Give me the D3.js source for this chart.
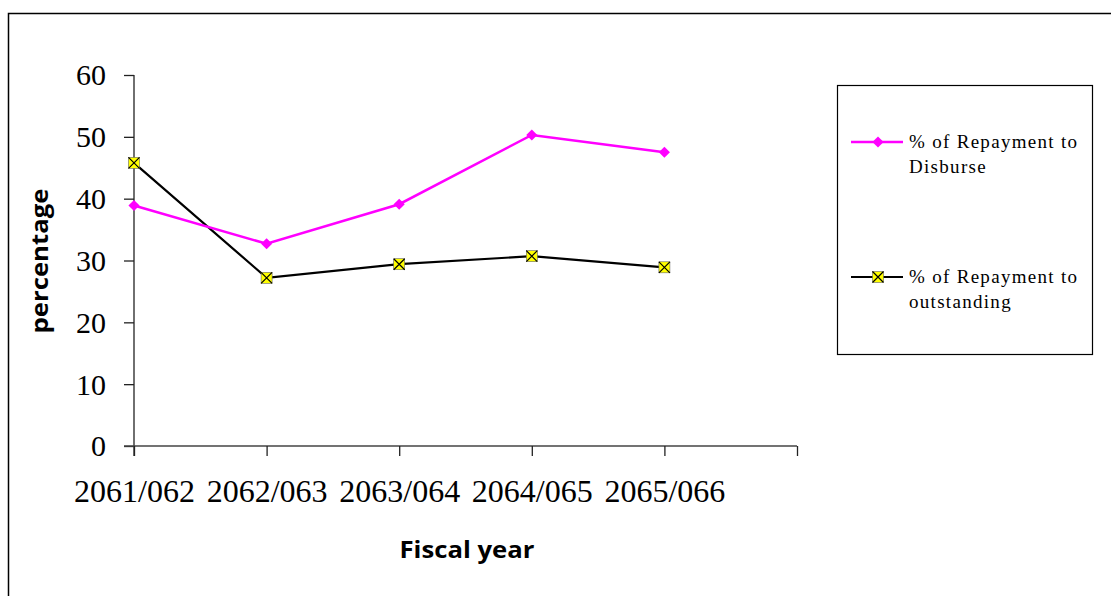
<!DOCTYPE html>
<html>
<head>
<meta charset="utf-8">
<script src="https://cdn.jsdelivr.net/npm/d3@7"></script>
<style>
  html, body { margin: 0; padding: 0; background: #fff; }
  svg { display: block; }
</style>
</head>
<body>
<svg id="chart" width="1111" height="596"></svg>
<script>
// Fiscal years (Nepali calendar) and repayment ratios in percent
const fiscalYears = ["2061/062", "2062/063", "2063/064", "2064/065", "2065/066"];
const repaymentToDisburse = [38.9, 32.7, 39.1, 50.3, 47.5];
const repaymentToOutstanding = [45.8, 27.2, 29.4, 30.7, 28.9];
const yTicks = [0, 10, 20, 30, 40, 50, 60];
const seriesNames = [
  ["% of Repayment to", "Disburse"],
  ["% of Repayment to", "outstanding"]
];

const svg = d3.select("#chart");

// outer chart frame
svg.append("path")
  .attr("d", "M8.5,600 L8.5,13.5 L1115,13.5")
  .attr("fill", "none")
  .attr("stroke", "#000")
  .attr("stroke-width", 1.5);

// category axis has one extra empty slot at the right end
const x = d3.scaleLinear().domain([0, fiscalYears.length]).range([134, 797]);
const y = d3.scaleLinear().domain([0, 60]).range([446, 75]);

const serif = "'Liberation Serif', 'Times New Roman', serif";
const sans = "'Open Sans', 'DejaVu Sans', sans-serif";

// y axis
const yAxis = svg.append("g")
  .attr("transform", "translate(134,0)")
  .call(d3.axisLeft(y).tickValues(yTicks).tickSize(10).tickPadding(18).tickFormat(d3.format("d")));
yAxis.select(".domain").attr("d", "M0,75 V456").attr("stroke", "#222").attr("stroke-width", 1.3);
yAxis.selectAll(".tick line").attr("stroke", "#222").attr("stroke-width", 1.3);
yAxis.selectAll(".tick text")
  .attr("font-family", serif).attr("font-size", 30).attr("fill", "#000")
  .attr("dy", "0.33em");

// x axis
const xAxis = svg.append("g")
  .attr("transform", "translate(0,446)")
  .call(d3.axisBottom(x).tickValues(d3.range(fiscalYears.length + 1)).tickSize(10).tickPadding(23)
    .tickFormat(i => fiscalYears[i] || ""));
xAxis.select(".domain").attr("d", "M124,0 H797").attr("stroke", "#444").attr("stroke-width", 1.5);
xAxis.selectAll(".tick line").attr("stroke", "#222").attr("stroke-width", 1.3);
xAxis.selectAll(".tick text")
  .attr("font-family", serif).attr("font-size", 32).attr("fill", "#000");

// axis titles
svg.append("text")
  .attr("transform", "translate(48,261) rotate(-90)")
  .attr("text-anchor", "middle")
  .attr("font-family", sans).attr("font-weight", "bold").attr("font-size", 23)
  .attr("textLength", 145).attr("lengthAdjust", "spacingAndGlyphs")
  .text("percentage");

svg.append("text")
  .attr("x", 467).attr("y", 558)
  .attr("text-anchor", "middle")
  .attr("font-family", sans).attr("font-weight", "bold").attr("font-size", 23)
  .attr("textLength", 135).attr("lengthAdjust", "spacingAndGlyphs")
  .text("Fiscal year");

const line = d3.line().x((d, i) => x(i)).y(d => y(d));

// series lines
svg.append("path").datum(repaymentToOutstanding)
  .attr("d", line).attr("fill", "none").attr("stroke", "#000").attr("stroke-width", 2.2);
svg.append("path").datum(repaymentToDisburse)
  .attr("d", line).attr("fill", "none").attr("stroke", "#ff00ff").attr("stroke-width", 2.5);

// marker drawers: square diamond, and yellow box with an x
const diamond = d3.symbol().type(d3.symbolSquare).size(62);
function drawDiamond(g, cx, cy) {
  g.append("path").attr("d", diamond()).attr("transform", `translate(${cx},${cy}) rotate(45)`)
    .attr("fill", "#ff00ff");
}
function drawCross(g, cx, cy) {
  const s = 5.5;
  const m = g.append("g").attr("transform", `translate(${cx},${cy})`);
  m.append("rect").attr("x", -s).attr("y", -s).attr("width", 2 * s).attr("height", 2 * s)
    .attr("fill", "#ffff00").attr("stroke", "#666").attr("stroke-width", 0.6);
  m.append("path").attr("d", `M${-s},${-s}L${s},${s}M${-s},${s}L${s},${-s}`)
    .attr("stroke", "#000").attr("stroke-width", 1.2);
}

repaymentToOutstanding.forEach((v, i) => drawCross(svg, x(i), y(v)));
repaymentToDisburse.forEach((v, i) => drawDiamond(svg, x(i), y(v)));

// legend
const legend = svg.append("g");
legend.append("rect")
  .attr("x", 837.5).attr("y", 85.5).attr("width", 255).attr("height", 269)
  .attr("fill", "none").attr("stroke", "#000").attr("stroke-width", 1.2);

const legendRows = [142, 277];
legendRows.forEach((ly, k) => {
  legend.append("line").attr("x1", 851).attr("x2", 903).attr("y1", ly).attr("y2", ly)
    .attr("stroke", k === 0 ? "#ff00ff" : "#000").attr("stroke-width", k === 0 ? 2.5 : 2.2);
  if (k === 0) drawDiamond(legend, 878, ly); else drawCross(legend, 878, ly);
  const t = legend.append("text")
    .attr("font-family", serif).attr("font-size", 19).attr("letter-spacing", 1.3).attr("fill", "#000");
  seriesNames[k].forEach((s, j) => {
    t.append("tspan").attr("x", 909).attr("y", ly + 6 + j * 25).text(s);
  });
});
</script>
</body>
</html>
